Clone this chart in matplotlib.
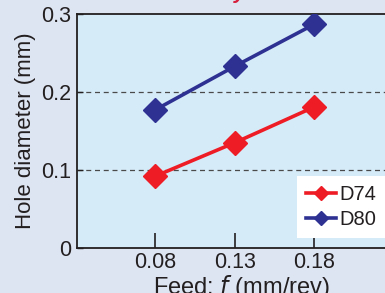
import matplotlib
matplotlib.use("Agg")
import matplotlib.pyplot as plt

plt.rcParams['font.family'] = ['Liberation Sans', 'DejaVu Sans']

feed = [0.08, 0.13, 0.18]
feed_labels = ["0.08", "0.13", "0.18"]
d74 = [0.092, 0.135, 0.181]
d80 = [0.177, 0.233, 0.287]
yticks = [0, 0.1, 0.2, 0.3]
ytick_labels = ["0", "0.1", "0.2", "0.3"]

W, H = 385, 293
fig = plt.figure(figsize=(W / 100, H / 100), dpi=100)
fig.patch.set_facecolor('#dde4f2')

left, right, top, bottom = 77, 430, 14, 248
ax = fig.add_axes([left / W, 1 - bottom / H, (right - left) / W, (bottom - top) / H])
ax.set_facecolor('#d5ebf8')

red = '#ee1c25'
blue = '#2e3192'
ax.plot(feed, d74, color=red, lw=2.6, marker='D', ms=12, label='D74', zorder=3)
ax.plot(feed, d80, color=blue, lw=2.6, marker='D', ms=12, label='D80', zorder=3)

ax.set_xlim(0.031, 0.2525)
ax.set_ylim(0, 0.3)
ax.set_xticks(feed)
ax.set_xticklabels(feed_labels)
ax.set_yticks(yticks)
ax.set_yticklabels(ytick_labels)
ax.tick_params(axis='both', direction='in', labelsize=15.5, color='#231f20', labelcolor='#231f20')
ax.tick_params(axis='x', length=11, width=1.2, pad=3)
ax.tick_params(axis='y', length=4, width=1, pad=4)

for y in [0.1, 0.2]:
    ax.axhline(y, color='#4a4a4a', lw=0.9, ls=(0, (4, 3)), zorder=1)

for s in ax.spines.values():
    s.set_color('#231f20')
    s.set_linewidth(1.3)

ax.set_xlabel('Feed: $\\it{f}$ (mm/rev)', fontsize=17, color='#231f20', va='top')
ax.xaxis.set_label_coords((241 - left) / (right - left), -(273 - bottom) / (bottom - top))
ax.set_ylabel('Hole diameter (mm)', fontsize=16, color='#231f20', labelpad=4)

leg = ax.legend(loc='upper left', bbox_to_anchor=((297 - left) / (right - left), 1 - (176 - top) / (bottom - top)),
                borderaxespad=0, frameon=True, fancybox=False, framealpha=1, edgecolor='white',
                handlelength=1.5, handletextpad=0.15, borderpad=0.45, labelspacing=0.3,
                prop={'size': 14.5}, markerscale=0.6)
leg.get_frame().set_linewidth(0)
for t in leg.get_texts():
    t.set_color('#231f20')

fig.text(246 / W, 1 + 1 / H, 'Hole accuracy', color='#d61f3c', fontsize=15,
         fontweight='bold', style='italic', ha='right', va='baseline')

fig.savefig('out.png', dpi=100, facecolor=fig.get_facecolor())
